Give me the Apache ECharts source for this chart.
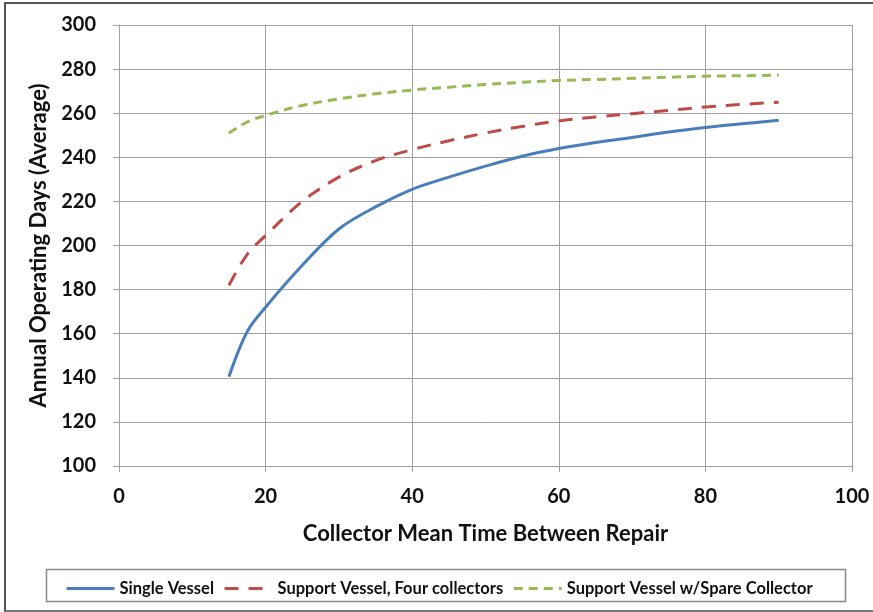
<!DOCTYPE html>
<html>
<head>
<meta charset="utf-8">
<script src="https://cdn.jsdelivr.net/npm/echarts@6/dist/echarts.min.js"></script>
<style>html,body{margin:0;padding:0;background:#fff;}#c{width:873px;height:612px;}</style>
</head>
<body>
<div id="c"></div>
<script>
const xValues = [15, 17.5, 20, 25, 30, 35, 40, 45, 50, 55, 60, 65, 70, 75, 80, 85, 90];
const singleVessel = [140.5, 161, 172, 191, 207.5, 217.5, 225.5, 231, 236, 240.5, 244, 246.7, 249, 251.5, 253.5, 255.2, 256.8];
const supportFour = [182, 196, 204.5, 220, 231, 238.5, 243.5, 247.5, 251, 254, 256.5, 258.3, 259.8, 261.3, 262.8, 264, 265];
const supportSpare = [251, 256, 259, 263.5, 266.5, 268.8, 270.5, 271.8, 273, 274, 274.8, 275.3, 275.8, 276.3, 276.8, 277, 277.2];
const seriesNames = ['Single Vessel', 'Support Vessel, Four collectors', 'Support Vessel w/Spare Collector'];
const xTicks = [0, 20, 40, 60, 80, 100];
const yTicks = [100, 120, 140, 160, 180, 200, 220, 240, 260, 280, 300];

const pair = (xs, ys) => xs.map((x, i) => [x, ys[i]]);
const FONT = 'Lato';
const chart = echarts.init(document.getElementById('c'), null, {renderer: 'canvas'});
chart.setOption({
  animation: false,
  backgroundColor: '#fff',
  grid: {left: 119, right: 21, top: 25, bottom: 146, containLabel: false},
  xAxis: {
    type: 'value', min: xTicks[0], max: xTicks[xTicks.length - 1], interval: 20,
    name: 'Collector Mean Time Between Repair', nameLocation: 'middle', nameGap: 57,
    nameTextStyle: {fontFamily: FONT, fontWeight: 'bold', fontSize: 22, color: '#111'},
    axisLine: {show: true, lineStyle: {color: '#a0a0a0', width: 1}},
    axisTick: {show: true, length: 6, lineStyle: {color: '#a0a0a0'}},
    axisLabel: {fontFamily: FONT, fontWeight: 'bold', fontSize: 20, color: '#111', margin: 21},
    splitLine: {show: true, lineStyle: {color: '#a0a0a0', width: 1}}
  },
  yAxis: {
    type: 'value', min: yTicks[0], max: yTicks[yTicks.length - 1], interval: 20,
    name: 'Annual Operating Days (Average)', nameLocation: 'middle', nameGap: 67, nameRotate: 90,
    nameTextStyle: {fontFamily: FONT, fontWeight: 'bold', fontSize: 22, color: '#111'},
    axisLine: {show: true, lineStyle: {color: '#a0a0a0', width: 1}},
    axisTick: {show: true, length: 6, lineStyle: {color: '#a0a0a0'}},
    axisLabel: {fontFamily: FONT, fontWeight: 'bold', fontSize: 20, color: '#111', margin: 23},
    splitLine: {show: true, lineStyle: {color: '#a0a0a0', width: 1}}
  },
  legend: {
    left: 60, top: 575, itemWidth: 48, itemHeight: 14, itemGap: 9,
    itemStyle: {opacity: 0},
    lineStyle: {width: 3},
    textStyle: {fontFamily: FONT, fontWeight: 'bold', fontSize: 16.5, color: '#111'},
    data: seriesNames
  },
  graphic: [
    {type: 'rect', shape: {x: 46.5, y: 569.5, width: 799, height: 32}, style: {fill: 'none', stroke: '#888', lineWidth: 1.5}, z: -1},
    {type: 'polyline', shape: {points: [[5, 612], [5, 3], [873, 3]]}, style: {fill: 'none', stroke: '#555', lineWidth: 2}},
    {type: 'line', shape: {x1: 5, y1: 611, x2: 873, y2: 611}, style: {stroke: '#777', lineWidth: 2}}
  ],
  series: [
    {name: seriesNames[0], type: 'line', smooth: 0.35, symbol: 'none', data: pair(xValues, singleVessel),
     lineStyle: {color: '#4a7ebb', width: 3}, itemStyle: {color: '#4a7ebb'}},
    {name: seriesNames[1], type: 'line', smooth: 0.35, symbol: 'none', data: pair(xValues, supportFour),
     lineStyle: {color: '#be4b48', width: 3, type: [14, 10]}, itemStyle: {color: '#be4b48'}},
    {name: seriesNames[2], type: 'line', smooth: 0.35, symbol: 'none', data: pair(xValues, supportSpare),
     lineStyle: {color: '#98b954', width: 3, type: [9, 6]}, itemStyle: {color: '#98b954'}}
  ]
});
</script>
</body>
</html>
